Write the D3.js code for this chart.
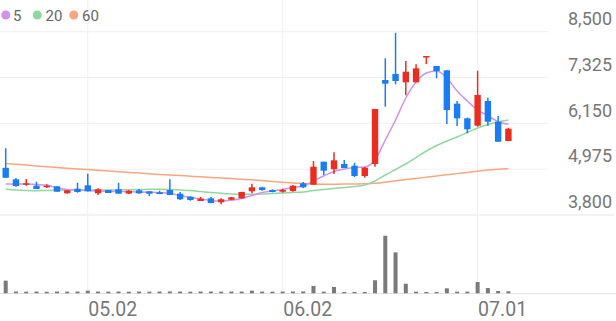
<!DOCTYPE html>
<html><head><meta charset="utf-8">
<script src="https://cdn.jsdelivr.net/npm/d3@7"></script>
<style>
html,body{margin:0;padding:0;background:#fff;}
svg{display:block;font-family:Roboto,"Noto Sans",sans-serif;}
</style></head><body>
<svg id="c" width="616" height="321"></svg>
<script>
const dates = ["04.21","04.22","04.23","04.24","04.25","04.28","04.29","04.30","05.02","05.07",
"05.08","05.09","05.12","05.13","05.14","05.15","05.16","05.19","05.20","05.21",
"05.22","05.23","05.26","05.27","05.28","05.29","05.30","06.02","06.04","06.05",
"06.09","06.10","06.11","06.12","06.13","06.16","06.17","06.18","06.19","06.20",
"06.23","06.24","06.25","06.26","06.27","06.30","07.01","07.02","07.03","07.04"];
const open  = [5010,4715,4577,4551,4518,4536,4356,4474,4561,4356,4441,4459,4350,4433,4408,4382,4441,4346,4269,4159,
4228,4126,4192,4228,4408,4510,4441,4397,4415,4613,4577,5167,4972,5108,5064,4800,5108,7261,7415,7202,
7202,7877,7620,7510,6654,6279,6090,6723,6192,5697];
const high  = [5510,4749,4723,4654,4587,4536,4441,4628,4859,4485,4441,4628,4433,4467,4408,4423,4715,4390,4280,4262,
4262,4228,4262,4397,4603,4526,4459,4474,4569,4646,5185,5167,5408,5210,5141,5031,6518,7818,8474,7749,
7664,7877,7620,7510,6723,6295,7500,6808,6338,6038];
const low   = [4750,4526,4551,4467,4492,4397,4346,4372,4400,4313,4364,4346,4338,4346,4287,4338,4313,4185,4167,4159,
4100,4074,4185,4218,4356,4423,4382,4372,4397,4492,4577,4826,4851,5005,4774,4756,5038,6577,7151,6869,
7202,7672,7305,6133,6082,5895,6064,6090,5679,5697];
const close = [4756,4544,4613,4467,4551,4397,4433,4390,4408,4459,4364,4346,4423,4356,4346,4338,4313,4203,4185,4218,
4108,4203,4254,4390,4510,4441,4390,4441,4551,4510,5038,4936,5203,5005,4800,5013,6518,7167,7236,7474,
7561,7877,7492,6492,6279,5997,6877,6192,5679,6013];
const volume = [2150,300,280,300,260,300,280,300,450,300,280,300,280,300,280,300,320,300,280,300,
300,280,300,300,450,300,280,300,300,320,1250,280,1080,230,230,230,2220,9800,6970,1630,
280,230,230,850,280,280,1920,900,390,340];
const ma5  = [4595,4595,4595,4582,4569,4492,4454,4441,4428,4415,4408,4403,4397,4390,4382,4372,4356,4300,4249,4210,
4172,4159,4177,4223,4300,4377,4415,4454,4505,4544,4672,4800,4915,4979,5018,5031,5210,5723,6236,6800,
7210,7441,7492,7313,6979,6723,6492,6346,6192,6125];
const ma20 = [4459,4441,4428,4423,4428,4433,4441,4441,4441,4441,4441,4446,4449,4454,4459,4459,4454,4441,4428,4403,
4377,4356,4338,4331,4331,4338,4351,4364,4377,4390,4428,4454,4479,4505,4531,4569,4672,4826,4967,5108,
5274,5441,5582,5697,5800,5915,6031,6120,6185,6236];
const ma60 = [5120,5100,5079,5059,5038,5018,5000,4982,4964,4946,4928,4910,4892,4874,4856,4841,4826,4810,4795,4779,
4764,4749,4733,4718,4703,4682,4662,4641,4620,4605,4595,4590,4590,4592,4595,4600,4613,4641,4677,4708,
4738,4769,4800,4831,4861,4892,4923,4951,4974,4992];
const priceTicks = [3800,4975,6150,7325,8500];
const dateTicks = ["05.02","06.02","07.01"];
const maNames = ["5","20","60"];
const maColors = ["#d291ee","#8fd8a2","#f9a680"];

const svg = d3.select("#c");
const W = 616;
const x = d3.scalePoint().domain(dates).range([5.7, 508.4]);
const y = d3.scaleLinear().domain([3800, 8500]).range([215, 31.7]);
const yv = d3.scaleLinear().domain([0, 12000]).range([293.3, 222.8]);

// grid
const g = svg.append("g");
g.selectAll("line.h").data(priceTicks.slice(1)).enter().append("line")
  .attr("x1", 0).attr("x2", 548).attr("y1", d => y(d)).attr("y2", d => y(d))
  .attr("stroke", "#f0f0f0").attr("stroke-width", 1);
g.append("line").attr("x1", 0).attr("x2", 614).attr("y1", y(3800)).attr("y2", y(3800))
  .attr("stroke", "#e6e6e6");
g.selectAll("line.v").data(dateTicks).enter().append("line")
  .attr("x1", d => x(d)).attr("x2", d => x(d)).attr("y1", 0).attr("y2", 293)
  .attr("stroke", "#f0f0f0");
g.append("line").attr("x1", 0).attr("x2", W).attr("y1", 293.5).attr("y2", 293.5).attr("stroke", "#e3e3e3");

// y labels
svg.append("g").selectAll("text").data(priceTicks).enter().append("text")
  .attr("x", 612).attr("y", d => y(d) - 6.7).attr("text-anchor", "end")
  .attr("font-size", 18).attr("fill", "#777").text(d => d3.format(",")(d));

// x labels
svg.append("g").selectAll("text").data(dateTicks).enter().append("text")
  .attr("x", d => x(d) + 0.5).attr("y", 316).attr("font-size", 19.5).attr("fill", "#777").text(d => d);

// volume
svg.append("g").selectAll("rect").data(dates).enter().append("rect")
  .attr("x", d => x(d) - 2).attr("width", 4)
  .attr("y", (d, i) => yv(volume[i])).attr("height", (d, i) => yv(0) - yv(volume[i]))
  .attr("fill", "#7a7a7a");

// MA lines
const mas = [ma5, ma20, ma60];
[2,1,0].forEach(k => {
  const line = d3.line().x((d, i) => x(dates[i])).y(d => y(d)).curve(d3.curveMonotoneX);
  svg.append("path").attr("d", line(mas[k])).attr("fill", "none")
    .attr("stroke", maColors[k]).attr("stroke-width", 1.5);
});

// candles
const up = "#ec2c1f", dn = "#1a7cf2";
const cg = svg.append("g");
dates.forEach((d, i) => {
  const col = close[i] >= open[i] ? up : dn;
  const cx = x(d);
  cg.append("line").attr("x1", cx).attr("x2", cx).attr("y1", y(high[i])).attr("y2", y(low[i]))
    .attr("stroke", col).attr("stroke-width", 1.5);
  const top = y(Math.max(open[i], close[i])), bot = y(Math.min(open[i], close[i]));
  cg.append("rect").attr("x", cx - 3.2).attr("width", 6.4).attr("y", top)
    .attr("height", Math.max(1.5, bot - top)).attr("fill", col);
});

// legend
const lg = svg.append("g");
const lx = [5.8, 37.3, 73.8], tx = [13, 45.5, 82];
maNames.forEach((n, k) => {
  lg.append("circle").attr("cx", lx[k]).attr("cy", 15).attr("r", 4.5).attr("fill", maColors[k]);
  lg.append("text").attr("x", tx[k]).attr("y", 20.5).attr("font-size", 15).attr("fill", "#666").text(n);
});
</script></body></html>
